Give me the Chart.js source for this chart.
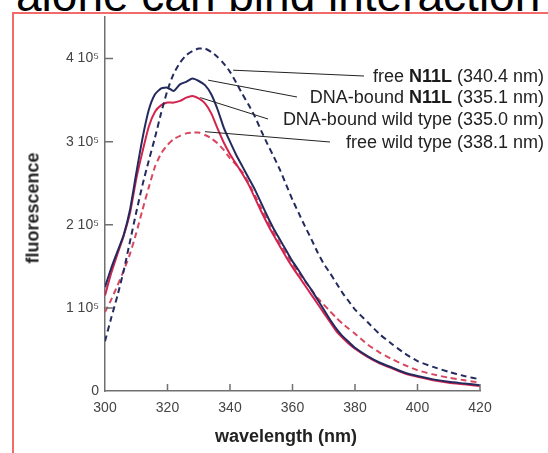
<!DOCTYPE html>
<html>
<head>
<meta charset="utf-8">
<script src="https://cdn.jsdelivr.net/npm/chart.js@4.4.0/dist/chart.umd.min.js"></script>
<style>
  html, body { margin: 0; padding: 0; background: #fff; }
  #wrap { position: relative; width: 548px; height: 453px; overflow: hidden; font-family: "Liberation Sans", Arial, sans-serif; }
  #headline { position: absolute; left: 16px; top: -28px; font-size: 46px; line-height: 1; white-space: nowrap; color: #000; }
  #frame { position: absolute; left: 12px; top: 12px; width: 700px; height: 600px; border-left: 2px solid #f26a6a; border-top: 2px solid #f26a6a; }
  #chart { position: absolute; left: 0; top: 0; }
  .lbl { position: absolute; right: 4px; font-size: 18px; color: #222; white-space: nowrap; transform: translateY(-50%); }
  .lbl b { font-weight: bold; color: #1a1a1a; }
  #xtitle { position: absolute; left: 286px; top: 436px; transform: translate(-50%, -50%); font-size: 18px; font-weight: bold; color: #222; white-space: nowrap; }
  #ytitle { position: absolute; left: 33px; top: 208px; transform: translate(-50%, -50%) rotate(-90deg); font-size: 18px; font-weight: bold; color: #222; white-space: nowrap; }
</style>
</head>
<body>
<div id="wrap">
  <div id="headline">alone can bind interaction</div>
  <div id="frame"></div>
  <canvas id="chart" width="548" height="453"></canvas>
  <div class="lbl" style="top:76px">free <b>N11L</b> (340.4 nm)</div>
  <div class="lbl" style="top:97px">DNA-bound <b>N11L</b> (335.1 nm)</div>
  <div class="lbl" style="top:119px">DNA-bound wild type (335.0 nm)</div>
  <div class="lbl" style="top:142px">free wild type (338.1 nm)</div>
  <div id="xtitle">wavelength (nm)</div>
  <div id="ytitle">fluorescence</div>
</div>
<script>
// wavelength (nm)
const wavelengths = [300, 302, 304, 306, 308, 310, 312, 314, 316, 318, 320, 322, 324, 326, 328, 330, 332, 334, 336, 338,
  340, 342, 344, 346, 348, 350, 352, 354, 356, 358, 360, 362, 364, 366, 368, 370, 372, 374, 376, 378,
  380, 384, 388, 392, 396, 400, 405, 410, 415, 420];

// fluorescence, in units of 10^5
const freeN11L = [0.60, 0.88, 1.15, 1.45, 1.80, 2.15, 2.48, 2.77, 3.05, 3.35, 3.62, 3.82, 3.95, 4.04, 4.09, 4.12, 4.12, 4.08, 4.02, 3.94,
  3.84, 3.71, 3.57, 3.44, 3.30, 3.13, 2.97, 2.82, 2.66, 2.48, 2.30, 2.14, 1.98, 1.83, 1.67, 1.53, 1.42, 1.30, 1.18, 1.08,
  0.98, 0.83, 0.68, 0.56, 0.45, 0.36, 0.29, 0.23, 0.18, 0.14];
const boundN11L = [1.25, 1.48, 1.68, 1.88, 2.18, 2.62, 3.04, 3.38, 3.57, 3.64, 3.65, 3.61, 3.69, 3.72, 3.76, 3.73, 3.68, 3.57, 3.39, 3.17,
  3.00, 2.84, 2.70, 2.56, 2.42, 2.26, 2.10, 1.95, 1.82, 1.69, 1.56, 1.45, 1.33, 1.22, 1.10, 0.98, 0.86, 0.75, 0.66, 0.59,
  0.52, 0.42, 0.34, 0.28, 0.22, 0.18, 0.14, 0.11, 0.09, 0.07];
const boundWT = [1.15, 1.42, 1.65, 1.87, 2.14, 2.55, 2.88, 3.18, 3.36, 3.44, 3.47, 3.47, 3.49, 3.53, 3.55, 3.52, 3.46, 3.34, 3.16, 2.99,
  2.85, 2.73, 2.61, 2.48, 2.32, 2.16, 2.01, 1.87, 1.74, 1.61, 1.49, 1.38, 1.27, 1.16, 1.05, 0.94, 0.83, 0.72, 0.64, 0.57,
  0.51, 0.41, 0.33, 0.27, 0.21, 0.17, 0.13, 0.10, 0.08, 0.06];
const freeWT = [0.95, 1.10, 1.27, 1.45, 1.65, 1.90, 2.18, 2.45, 2.70, 2.86, 2.96, 3.03, 3.07, 3.10, 3.11, 3.11, 3.08, 3.04, 2.98, 2.90,
  2.80, 2.72, 2.63, 2.50, 2.35, 2.20, 2.05, 1.90, 1.77, 1.65, 1.53, 1.42, 1.32, 1.22, 1.12, 1.04, 0.96, 0.88, 0.81, 0.75,
  0.69, 0.56, 0.46, 0.38, 0.31, 0.25, 0.20, 0.16, 0.13, 0.10];

const xTicks = [300, 320, 340, 360, 380, 400, 420];
const yTicks = [0, 1, 2, 3, 4];
const yTickLabels = ['0', '1 10\u2075', '2 10\u2075', '3 10\u2075', '4 10\u2075'];

const navy = '#232a5e';
const crimson = '#d3234f';
const pink = '#d9475f';
const axisColor = '#707070';
const fontFamily = '"Liberation Sans", Arial, sans-serif';

const toPoints = vals => vals.map((v, i) => ({ x: wavelengths[i], y: v }));

// leader lines: start on a curve (data coords), end next to the label (pixels)
const leaders = [
  { x: 341, y: 3.86, ex: 364, ey: 76 },
  { x: 333, y: 3.74, ex: 297, ey: 97 },
  { x: 330.5, y: 3.53, ex: 268, ey: 119 },
  { x: 332, y: 3.12, ex: 330, ey: 142 }
];

const decorations = {
  id: 'decorations',
  afterDraw(chart) {
    const { ctx, scales: { x, y } } = chart;
    ctx.save();
    ctx.strokeStyle = axisColor;
    ctx.lineWidth = 1.5;
    ctx.beginPath();
    xTicks.slice(1).forEach(v => {
      const px = x.getPixelForValue(v);
      ctx.moveTo(px, y.bottom);
      ctx.lineTo(px, y.bottom - 7);
    });
    yTicks.slice(1).forEach(v => {
      const py = y.getPixelForValue(v);
      ctx.moveTo(x.left, py);
      ctx.lineTo(x.left + 8, py);
    });
    ctx.stroke();

    ctx.strokeStyle = '#222';
    ctx.lineWidth = 1;
    leaders.forEach(l => {
      ctx.beginPath();
      ctx.moveTo(x.getPixelForValue(l.x), y.getPixelForValue(l.y));
      ctx.lineTo(l.ex, l.ey);
      ctx.stroke();
    });
    ctx.restore();
  }
};

new Chart(document.getElementById('chart').getContext('2d'), {
  type: 'line',
  data: {
    datasets: [
      { label: 'free N11L', data: toPoints(freeN11L), borderColor: navy, borderWidth: 2, borderDash: [6, 4] },
      { label: 'DNA-bound N11L', data: toPoints(boundN11L), borderColor: navy, borderWidth: 2 },
      { label: 'DNA-bound wild type', data: toPoints(boundWT), borderColor: crimson, borderWidth: 2 },
      { label: 'free wild type', data: toPoints(freeWT), borderColor: pink, borderWidth: 2, borderDash: [6, 4] }
    ]
  },
  options: {
    responsive: false,
    animation: false,
    elements: { point: { radius: 0 }, line: { tension: 0.2 } },
    layout: { padding: { left: 0, right: 68, top: 17, bottom: 0 } },
    plugins: { legend: { display: false }, tooltip: { enabled: false } },
    scales: {
      x: {
        type: 'linear', min: 300, max: 420,
        afterBuildTicks: s => { s.ticks = xTicks.map(v => ({ value: v })); },
        afterFit: s => { s.height = 62; },
        grid: { display: false, drawTicks: false },
        border: { color: axisColor, width: 1.5 },
        ticks: { padding: 9, color: '#444', maxRotation: 0, font: { size: 14, family: fontFamily } }
      },
      y: {
        type: 'linear', min: 0, max: 4.5,
        afterBuildTicks: s => { s.ticks = yTicks.map(v => ({ value: v })); },
        afterFit: s => { s.width = 105; },
        grid: { display: false, drawTicks: false },
        border: { color: axisColor, width: 1.5 },
        ticks: { padding: 6, color: '#444', font: { size: 14, family: fontFamily },
          callback: v => yTickLabels[yTicks.indexOf(v)] }
      }
    }
  },
  plugins: [decorations]
});
</script>
</body>
</html>
